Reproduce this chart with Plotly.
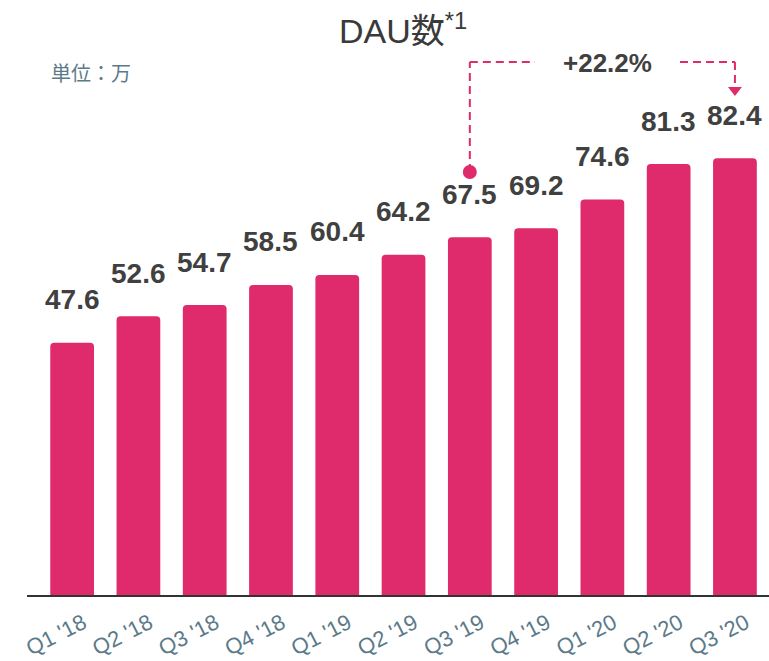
import plotly.graph_objects as go

categories = ["Q1 '18", "Q2 '18", "Q3 '18", "Q4 '18", "Q1 '19", "Q2 '19",
              "Q3 '19", "Q4 '19", "Q1 '20", "Q2 '20", "Q3 '20"]
dau = [47.6, 52.6, 54.7, 58.5, 60.4, 64.2, 67.5, 69.2, 74.6, 81.3, 82.4]
growth_label = "+22.2%"
growth_from = 6   # Q3 '19
growth_to = 10    # Q3 '20

PINK = "#DF2A6B"
DARK = "#404040"
AXISTXT = "#5B7A89"

W, H = 769, 661
BASE = 595                   # baseline row in the screenshot
ML = 27
MR = 0
MT = 40
MB = H - BASE
plot_h = H - MT - MB
px_per_unit = 5.3
ymax = plot_h / px_per_unit
px_per_cat = 66.28
xmin = -0.5 - (39 - 27) / px_per_cat
xmax = xmin + (W - ML - MR) / px_per_cat

def ypx(p):
    # screenshot row -> data value
    return (BASE - p) / px_per_unit

def xcat(p):
    # screenshot column -> category coordinate
    return xmin + (p - ML) / px_per_cat

def xpaper(p):
    return (p - ML) / (W - ML - MR)

def ypaper(p):
    return (BASE - p) / plot_h

fig = go.Figure()
fig.add_trace(go.Bar(
    x=list(range(len(categories))), y=dau,
    marker=dict(color=PINK, cornerradius=4, line=dict(width=0)),
    hoverinfo="skip",
))

for i, v in enumerate(dau):
    fig.add_annotation(x=i, y=v, text=f"<b>{v}</b>", showarrow=False,
                       xref="x", yref="y", yanchor="middle", yshift=43,
                       font=dict(family="Liberation Sans, Arial", size=28, color=DARK))

# growth bracket
y_top = ypx(62)
y_dot = ypx(172)
y_tri = ypx(90)
y_tri_top = ypx(85)
dash = dict(color=PINK, width=2, dash="8px,5px")
fig.add_shape(type="line", x0=growth_from, x1=growth_from, y0=y_dot, y1=y_top, line=dash, layer="above")
fig.add_shape(type="line", x0=growth_from, x1=xcat(535), y0=y_top, y1=y_top, line=dash, layer="above")
fig.add_shape(type="line", x0=xcat(680), x1=growth_to, y0=y_top, y1=y_top, line=dash, layer="above")
fig.add_shape(type="line", x0=growth_to, x1=growth_to, y0=y_top, y1=y_tri_top, line=dash, layer="above")
fig.add_trace(go.Scatter(x=[growth_from], y=[y_dot], mode="markers",
                         marker=dict(symbol="circle", size=14, color=PINK),
                         hoverinfo="skip", cliponaxis=False))
fig.add_trace(go.Scatter(x=[growth_to], y=[y_tri], mode="markers",
                         marker=dict(symbol="triangle-down", size=12, color=PINK),
                         hoverinfo="skip", cliponaxis=False))
fig.add_annotation(x=xcat(607), y=ypx(63), text=f"<b>{growth_label}</b>", showarrow=False,
                   xref="x", yref="y", yanchor="middle",
                   font=dict(family="Liberation Sans, Arial", size=26, color=DARK))

# title and unit
fig.add_annotation(x=xpaper(403), y=ypaper(28),
                   xref="paper", yref="paper", showarrow=False, yanchor="middle",
                   text="DAU数<sup>*1</sup>",
                   font=dict(family="Liberation Sans, Noto Sans CJK JP", size=34, color="#3A3A3A"))
fig.add_annotation(x=xpaper(49), y=ypaper(73),
                   xref="paper", yref="paper", showarrow=False, xanchor="left", yanchor="middle",
                   text="単位：万",
                   font=dict(family="Noto Sans CJK JP", size=20, color=AXISTXT))

fig.update_layout(
    width=W, height=H,
    margin=dict(l=ML, r=MR, t=MT, b=MB, autoexpand=False),
    plot_bgcolor="white", paper_bgcolor="white",
    showlegend=False, bargap=0.34,
    xaxis=dict(range=[xmin, xmax], tickmode="array",
               tickvals=list(range(len(categories))), ticktext=categories,
               tickangle=-27, showgrid=False, zeroline=False, automargin=False,
               showline=True, linecolor="#333333", linewidth=1.5,
               ticks="", ticklabelshift=11, ticklabelstandoff=5,
               tickfont=dict(family="Liberation Sans, Arial", size=22, color=AXISTXT)),
    yaxis=dict(range=[0, ymax], visible=False, showgrid=False, zeroline=False),
)

fig.write_html("out.html", config={"displayModeBar": False},
               post_script="document.body.style.margin='0';document.body.style.overflow='hidden';")
